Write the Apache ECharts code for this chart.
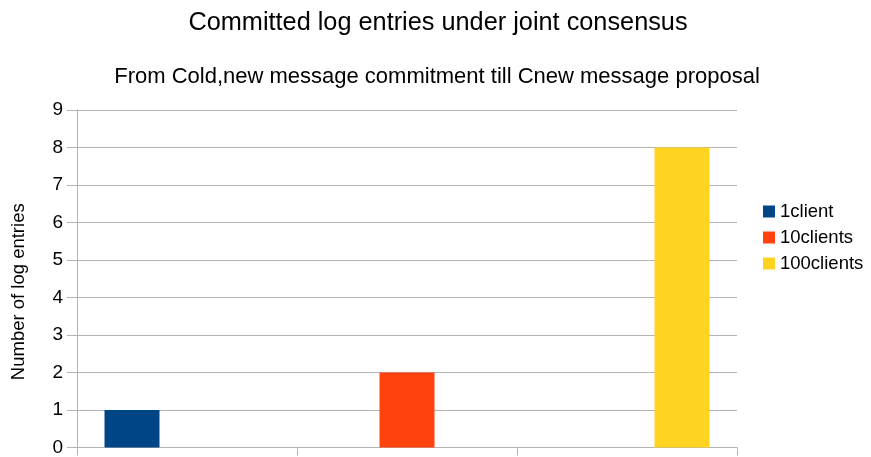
<!DOCTYPE html>
<html><head><meta charset="utf-8">
<script src="https://cdn.jsdelivr.net/npm/echarts@6/dist/echarts.min.js"></script>
<style>html,body{margin:0;padding:0;background:#fff}#c{width:871px;height:457px}</style>
</head><body><div id="c"></div>
<script>
const categories = ['', '', ''];
const seriesNames = ['1client', '10clients', '100clients'];
const client1 = [1, '-', '-'];
const clients10 = ['-', 2, '-'];
const clients100 = ['-', '-', 8];
const yTicks = [0, 1, 2, 3, 4, 5, 6, 7, 8, 9];
const colors = ['#004586', '#ff420e', '#ffd320'];
const values = [client1, clients10, clients100];

const chart = echarts.init(document.getElementById('c'));
const font = 'Liberation Sans';
chart.setOption({
  animation: false,
  textStyle: { fontFamily: font },
  title: [
    { text: 'Committed log entries under joint consensus', left: 433, top: 6, textAlign: 'center',
      textStyle: { fontFamily: font, fontSize: 25.3, fontWeight: 'normal', color: '#000' } },
    { text: 'From Cold,new message commitment till Cnew message proposal', left: 432, top: 61, textAlign: 'center',
      textStyle: { fontFamily: font, fontSize: 22, fontWeight: 'normal', color: '#000' } }
  ],
  legend: {
    orient: 'vertical', left: 758, top: 197, itemWidth: 12, itemHeight: 12, itemGap: 7,
    icon: 'rect', data: seriesNames,
    textStyle: { fontFamily: font, fontSize: 18.5, color: '#000' }
  },
  grid: { left: 77, right: 134, top: 110, bottom: 8, containLabel: false },
  xAxis: {
    type: 'category', data: categories,
    axisLine: { lineStyle: { color: '#b3b3b3' } },
    axisTick: { show: true, length: 8, lineStyle: { color: '#b3b3b3' } },
    axisLabel: { show: false },
    splitLine: { show: false }
  },
  yAxis: {
    type: 'value', min: yTicks[0], max: yTicks[yTicks.length - 1], interval: 1,
    name: 'Number of log entries', nameLocation: 'middle', nameGap: 49, nameRotate: 90,
    nameTextStyle: { fontFamily: font, fontSize: 18.5, color: '#000', padding: [0, 26, 0, 0] },
    axisLine: { show: true, lineStyle: { color: '#b3b3b3' } },
    axisTick: { show: true, length: 10, lineStyle: { color: '#b3b3b3' } },
    axisLabel: { fontFamily: font, fontSize: 19, color: '#000', margin: 14 },
    splitLine: { lineStyle: { color: '#b3b3b3' } }
  },
  series: seriesNames.map((n, i) => ({
    name: n, type: 'bar', data: values[i], barWidth: 55, barGap: '0%', barCategoryGap: '25%',
    itemStyle: { color: colors[i] }
  }))
});
</script></body></html>
